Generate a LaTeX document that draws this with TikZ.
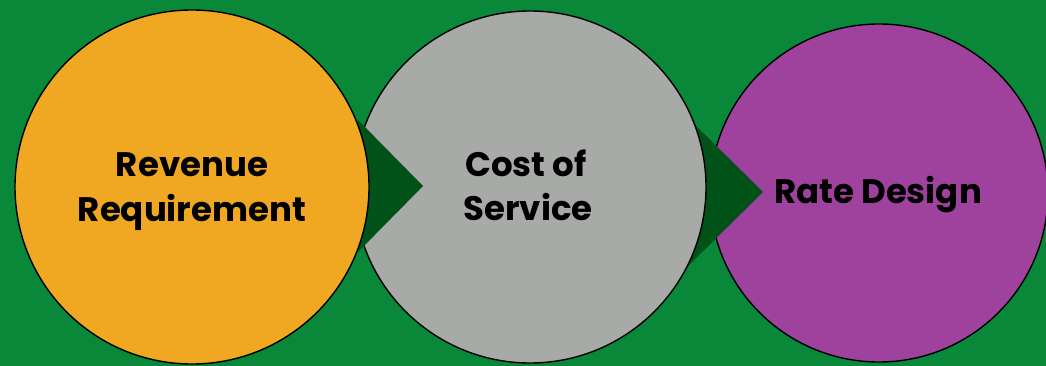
\documentclass[tikz,border=0pt]{standalone}
\usepackage{fontspec}
\setsansfont{Poppins}
\definecolor{bggreen}{RGB}{10,136,58}
\definecolor{arrowgreen}{RGB}{0,82,24}
\definecolor{revorange}{RGB}{240,168,34}
\definecolor{costgray}{RGB}{168,170,168}
\definecolor{ratepurple}{RGB}{158,66,158}
\begin{document}
\begin{tikzpicture}[x=1pt,y=-1pt,
  stage/.style={circle, draw=black, line width=1.4pt, inner sep=0pt},
  label/.style={anchor=base, inner sep=0pt, text=black,
    font=\sffamily\bfseries\fontsize{34}{40}\selectfont},
  chevron/.style={fill=arrowgreen}]
  \fill[bggreen] (0,0) rectangle (1046,366);
  \useasboundingbox (0,0) rectangle (1046,366);
  % third stage, then the arrow that points into it
  \node[stage, fill=ratepurple, minimum size=338pt] (rate) at (879,193) {};
  \node[label] (ratetext) at (878,204) {Rate Design};
  \fill[chevron] (686,116) coordinate (a2t) -- (763,192) coordinate (a2tip) -- (686,268) coordinate (a2b) -- cycle;
  % second stage, then the arrow that points into it
  \node[stage, fill=costgray, minimum size=352pt] (cost) at (530,187) {};
  \node[label] (costtop) at (526,177) {Cost of};
  \node[label] (costbot) at (528,220) {Service};
  \fill[chevron] (358,120) coordinate (a1t) -- (423,186) coordinate (a1tip) -- (358,252) coordinate (a1b) -- cycle;
  % first stage
  \node[stage, fill=revorange, minimum size=354pt] (rev) at (192,187) {};
  \node[label] (revtop) at (192,177) {Revenue};
  \node[label] (revbot) at (192,221) {Requirement};
\end{tikzpicture}
\end{document}
